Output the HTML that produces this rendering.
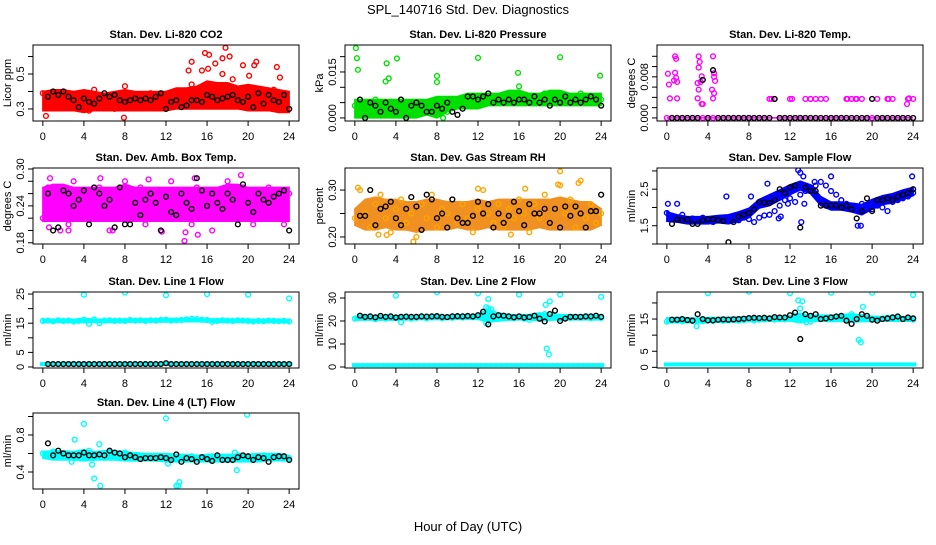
<!DOCTYPE html>
<html><head><meta charset="utf-8"><style>
html,body{margin:0;padding:0;background:#fff;}
svg text{font-family:"Liberation Sans",Arial,sans-serif;}
</style></head><body>
<svg id="chart" width="936" height="540" viewBox="0 0 936 540" xmlns="http://www.w3.org/2000/svg">
<text x="468" y="14" text-anchor="middle" font-size="13">SPL_140716  Std. Dev. Diagnostics</text>
<text x="468" y="531" text-anchor="middle" font-size="13">Hour of Day (UTC)</text>
</svg>
<script>
// ---------- data ----------
const xTicks=[0,4,8,12,16,20,24];
// P1 CO2
const co2Color=[0.39,0.35,0.33,0.37,0.40,0.31,0.36,0.38,0.34,0.29,0.41,0.33,0.36,0.38,0.30,0.35,0.43,0.32,0.37,0.36,0.34,0.39,0.31,0.35,0.37,0.33,0.40,0.36,0.38,0.44,0.35,0.52,0.38,0.33,0.42,0.50,0.36,0.47,0.40,0.55,0.37,0.42,0.34,0.39,0.36,0.41,0.33,0.37,0.30];
const co2Black=[0.37,0.40,0.38,0.40,0.37,0.35,0.31,0.36,0.34,0.33,0.36,0.39,0.37,0.38,0.35,0.34,0.35,0.36,0.35,0.36,0.35,0.37,0.39,0.30,0.34,0.35,0.31,0.32,0.35,0.35,0.34,0.38,0.37,0.35,0.36,0.37,0.38,0.35,0.34,0.37,0.31,0.39,0.33,0.38,0.35,0.34,0.38,0.30];
const co2BandLo=[0.29,0.29,0.29,0.29,0.28,0.29,0.29,0.29,0.29,0.29,0.29,0.29,0.29,0.30,0.30,0.30,0.30,0.30,0.30,0.30,0.29,0.29,0.29,0.28,0.28];
const co2BandHi=[0.40,0.41,0.41,0.40,0.41,0.40,0.39,0.40,0.41,0.40,0.40,0.40,0.40,0.42,0.42,0.43,0.46,0.45,0.45,0.43,0.44,0.43,0.42,0.41,0.40];
const co2OutX=[15.8,16.2,17.8,18.2,16.8,17.5,14.5,20.8,22.8,7.9,0.3,14.2,16.1,20.1,23.1,20.6];
const co2OutY=[0.62,0.61,0.65,0.60,0.56,0.59,0.57,0.57,0.54,0.25,0.26,0.52,0.53,0.49,0.48,0.55];
// P2 Pressure
const presColor=[0.004,0.003,0.005,0.002,0.006,0.001,0.004,0.005,0.003,0.006,0.002,0.004,0.001,0.005,0.003,0.002,0.004,0.006,0.002,0.005,0.006,0.005,0.007,0.004,0.006,0.005,0.007,0.006,0.005,0.007,0.006,0.008,0.005,0.007,0.006,0.007,0.005,0.008,0.006,0.007,0.005,0.006,0.007,0.005,0.008,0.006,0.007,0.005,0.006];
const presBlack=[0.006,0.000,0.005,0.004,0.002,0.005,0.003,0.002,0.006,0.000,0.004,0.005,0.004,0.002,0.002,0.004,0.003,0.005,0.002,0.001,0.003,0.007,0.007,0.006,0.007,0.008,0.005,0.006,0.005,0.006,0.005,0.006,0.006,0.005,0.007,0.005,0.006,0.004,0.006,0.005,0.007,0.005,0.006,0.005,0.006,0.007,0.006,0.004];
const presBandLo=[0,0,0,0,0,0,0,0.001,0,0.002,0.003,0.003,0.003,0.004,0.004,0.004,0.004,0.004,0.004,0.004,0.004,0.004,0.004,0.004,0.004];
const presBandHi=[0.006,0.006,0.006,0.006,0.006,0.006,0.006,0.006,0.007,0.007,0.007,0.008,0.008,0.008,0.008,0.009,0.009,0.008,0.008,0.009,0.009,0.008,0.008,0.008,0.008];
const presOutX=[0.1,0.2,0.3,3.1,4.1,3.3,3.0,8.0,8.0,12.0,15.9,16.0,20.0,23.9,8.6];
const presOutY=[0.0228,0.0195,0.0157,0.0178,0.0194,0.0129,0.0119,0.0137,0.0117,0.0196,0.0147,0.0103,0.0198,0.0138,0.000];
// P3 Temp
const tempColor=[0,0,0,0,0,0,0,0,0,0,0,0,0,0,0,0,0,0,0,0,0.0037,0.0037,0,0,0.0037,0,0,0.0037,0.0037,0.0037,0.0037,0.0037,0,0,0,0.0037,0.0037,0.0037,0.0037,0,0,0.0037,0,0.0037,0.0037,0,0,0.0037,0.0037];
const tempBlack=[0,0,0,0,0,0,0.0074,0,0.0093,0,0,0,0,0,0,0,0,0,0,0,0.0037,0,0,0,0,0,0,0,0,0,0,0,0,0,0,0,0,0,0,0.0037,0,0,0,0,0,0,0,0];
const tempBandLo=[0,0,0,0,0,0,0,0,0,0,0,0,0,0,0,0,0,0,0,0,0,0,0,0,0];
const tempBandHi=[0,0,0,0,0,0,0,0,0,0,0,0,0,0,0,0,0,0,0,0,0,0,0,0,0];
const tempOutX=[0.1,0.2,0.3,0.8,0.8,0.9,0.7,0.9,1.0,1.0,3.1,3.2,3.1,3.0,3.1,3.0,3.3,3.4,3.4,3.5,4.5,4.6,4.6,4.7,4.4,4.6,4.5,23.4,23.6,10.2,12.2,14.0,17.6,18.4,21.6];
const tempOutY=[0.0086,0.0065,0.0038,0.012,0.0088,0.0115,0.0073,0.0078,0.007,0.0038,0.012,0.0109,0.0098,0.0068,0.0055,0.0038,0.0070,0.0081,0.0027,0.0027,0.0120,0.0087,0.0080,0.0072,0.0055,0.0048,0.0038,0.0027,0.0038,0.0037,0.0037,0.0037,0.0037,0.0037,0.0037];
// P4 Amb box temp
const ambColor=[0.22,0.27,0.25,0.23,0.26,0.21,0.28,0.24,0.22,0.26,0.25,0.27,0.23,0.20,0.26,0.24,0.28,0.22,0.25,0.27,0.21,0.24,0.26,0.23,0.25,0.28,0.22,0.26,0.24,0.21,0.27,0.25,0.23,0.20,0.26,0.24,0.28,0.22,0.25,0.27,0.23,0.21,0.26,0.24,0.27,0.22,0.25,0.21,0.26];
const ambBlack=[0.26,0.20,0.205,0.265,0.26,0.24,0.25,0.265,0.21,0.27,0.26,0.24,0.25,0.205,0.27,0.21,0.21,0.245,0.225,0.25,0.26,0.245,0.20,0.255,0.23,0.225,0.26,0.245,0.235,0.285,0.265,0.24,0.26,0.245,0.235,0.26,0.25,0.21,0.275,0.245,0.23,0.26,0.25,0.245,0.255,0.26,0.265,0.20];
const ambBandLo=[0.215,0.215,0.215,0.215,0.215,0.215,0.215,0.215,0.215,0.215,0.215,0.215,0.215,0.215,0.215,0.215,0.215,0.215,0.215,0.215,0.215,0.215,0.215,0.215,0.215];
const ambBandHi=[0.27,0.275,0.275,0.27,0.27,0.27,0.27,0.27,0.275,0.27,0.27,0.27,0.27,0.27,0.27,0.27,0.27,0.27,0.275,0.275,0.27,0.27,0.27,0.27,0.27];
const ambOutX=[0.7,0.6,2.5,5.6,6.8,13.8,14.8,15.1,19.3,13.9,1.7,10.3,11.6];
const ambOutY=[0.285,0.205,0.20,0.285,0.20,0.183,0.285,0.193,0.29,0.197,0.20,0.283,0.198];
// P5 Gas stream RH
const rhColor=[0.24,0.30,0.25,0.22,0.27,0.29,0.24,0.21,0.26,0.28,0.23,0.25,0.20,0.27,0.24,0.29,0.22,0.26,0.25,0.28,0.23,0.27,0.24,0.21,0.26,0.30,0.25,0.23,0.27,0.22,0.26,0.24,0.28,0.25,0.21,0.27,0.24,0.29,0.23,0.26,0.31,0.25,0.28,0.22,0.32,0.24,0.27,0.23,0.25];
const rhBlack=[0.245,0.245,0.30,0.225,0.26,0.265,0.275,0.24,0.225,0.26,0.285,0.265,0.215,0.29,0.28,0.24,0.25,0.22,0.28,0.24,0.23,0.23,0.245,0.275,0.25,0.27,0.22,0.25,0.23,0.245,0.275,0.255,0.225,0.27,0.25,0.25,0.26,0.23,0.26,0.22,0.265,0.245,0.265,0.25,0.22,0.255,0.255,0.29];
const rhBandLo=[0.225,0.215,0.215,0.22,0.215,0.215,0.21,0.215,0.215,0.215,0.22,0.215,0.215,0.22,0.215,0.215,0.215,0.215,0.22,0.215,0.215,0.215,0.215,0.215,0.225];
const rhBandHi=[0.26,0.28,0.285,0.28,0.28,0.275,0.275,0.28,0.28,0.275,0.275,0.275,0.28,0.275,0.28,0.28,0.28,0.28,0.28,0.28,0.285,0.28,0.275,0.275,0.26];
const rhOutX=[5.7,20.0,19.8,15.2,2.3,0.3,21.8,12.0,16.6,3.1];
const rhOutY=[0.19,0.34,0.312,0.205,0.205,0.305,0.315,0.303,0.303,0.204];
// P6 Sample flow
const flowColor=[1.85,1.75,1.70,1.80,1.65,1.70,1.62,1.72,1.68,1.60,1.70,1.66,1.70,1.75,1.65,1.72,1.68,1.60,1.72,1.78,1.80,1.90,2.05,2.20,2.25,2.15,2.35,2.45,2.55,2.60,2.70,2.60,2.45,2.35,2.20,2.10,2.05,2.00,2.10,2.05,1.95,2.05,2.00,1.90,2.15,2.20,2.25,2.30,2.40];
const flowBlack=[1.55,1.67,1.65,1.67,1.55,1.55,1.65,1.67,1.68,1.65,1.63,1.05,1.60,1.75,1.80,1.85,1.95,2.15,2.13,2.12,2.20,2.50,2.40,2.55,2.60,1.45,2.55,2.45,2.45,2.05,2.05,2.05,2.05,2.00,2.05,1.95,1.70,1.90,2.25,1.90,2.20,2.20,2.25,2.20,2.30,2.35,2.40,2.50];
const flowBandLo=[1.62,1.60,1.55,1.55,1.55,1.58,1.55,1.62,1.72,1.98,2.05,2.20,2.35,2.48,2.38,2.05,1.93,1.93,1.88,1.80,1.95,2.08,2.12,2.22,2.32];
const flowBandHi=[1.88,1.80,1.75,1.75,1.75,1.78,1.80,1.88,1.98,2.22,2.35,2.48,2.62,2.72,2.62,2.30,2.15,2.15,2.12,2.08,2.22,2.32,2.38,2.48,2.55];
const flowOutX=[0.1,1.0,5.8,8.2,9.8,10.9,11.1,12.8,13.0,13.3,13.1,13.4,14.4,16.0,18.6,18.9,23.9,11.8];
const flowOutY=[2.10,2.10,2.30,2.30,2.65,1.70,1.75,3.02,2.95,2.85,1.60,2.10,2.70,2.85,1.50,1.50,2.85,2.10];
// P7 Line 1
const l1Color=[15.8,15.9,15.7,16.0,15.8,15.9,15.6,15.8,16.2,14.8,16.3,15.0,15.9,16.0,15.8,15.9,15.8,16.1,15.9,16.0,15.8,16.0,15.9,16.1,16.2,15.9,16.0,16.1,16.3,16.5,16.4,16.2,16.1,15.5,15.8,16.0,15.9,15.8,16.0,15.9,15.8,15.6,15.8,15.7,15.9,15.8,15.7,15.8,15.6];
const l1Low=[1.0,1.0,0.9,1.0,1.0,1.1,1.0,0.9,1.0,1.0,1.0,1.0,1.1,1.0,1.0,0.9,1.0,1.0,1.0,1.0,1.0,1.0,1.0,1.0,1.1,1.0,1.0,1.0,1.0,1.0,1.0,1.0,1.0,1.0,1.0,1.0,1.0,1.0,1.0,1.0,1.0,1.0,1.0,1.0,1.0,1.0,1.0,1.0,1.0];
const l1Black=[1.0,1.0,1.0,1.0,1.0,1.0,1.0,1.0,1.0,1.0,1.0,1.0,1.0,1.0,1.0,1.0,1.0,1.0,1.0,1.0,1.0,1.0,1.0,1.3,1.0,1.0,1.0,1.0,1.0,1.0,1.0,1.0,1.0,1.0,1.0,1.0,1.0,1.0,1.0,1.0,1.0,1.0,1.0,1.0,1.0,1.0,1.0,1.0];
const l1BandLo=[15.3,15.3,15.3,15.3,15.2,15.3,15.3,15.3,15.4,15.4,15.4,15.4,15.4,15.5,15.5,15.5,15.4,15.3,15.3,15.3,15.3,15.3,15.3,15.3,15.3];
const l1BandHi=[16.2,16.3,16.3,16.3,16.6,16.4,16.3,16.4,16.4,16.5,16.5,16.5,16.6,16.6,16.7,16.6,16.5,16.5,16.4,16.4,16.4,16.3,16.3,16.3,16.2];
const l1OutX=[4,8,12,16,20,24];
const l1OutY=[24.8,25.5,24.6,25.0,24.8,23.5];
// P8 Line 2
const l2Color=[21.0,21.5,21.2,21.8,20.8,21.4,21.0,21.6,21.2,19.5,21.4,21.0,21.3,21.7,21.1,21.5,21.9,21.2,21.6,21.4,21.8,21.5,22.0,21.6,21.8,23.0,25.5,22.5,21.0,22.0,21.5,21.2,21.8,21.0,20.5,21.4,22.5,23.0,21.5,21.8,21.0,21.5,21.3,21.6,21.4,21.8,21.2,21.5,21.3];
const l2Low=[0.8,0.8,0.8,0.8,0.8,0.8,0.8,0.8,0.8,0.8,0.8,0.8,0.8,0.8,0.8,0.8,0.8,0.8,0.8,0.8,0.8,0.8,0.8,0.8,0.8,0.8,0.8,0.8,0.8,0.8,0.8,0.8,0.8,0.8,0.8,0.8,0.8,0.8,0.8,0.8,0.8,0.8,0.8,0.8,0.8,0.8,0.8,0.8,0.8];
const l2Black=[22.3,21.8,22.0,21.6,22.2,21.8,22.0,21.5,21.8,21.9,21.8,21.8,22.0,21.9,22.0,22.1,21.8,21.7,22.0,22.1,22.0,22.2,22.0,22.5,24.0,18.5,22.0,22.5,22.3,22.0,21.6,22.0,21.5,21.7,22.3,21.0,19.8,23.0,24.5,20.0,21.0,21.8,21.8,21.8,22.0,22.0,22.3,21.8];
const l2BandLo=[20.3,20.4,20.4,20.4,20.3,20.5,20.6,20.6,20.6,20.6,20.7,20.7,20.7,19.5,20.0,20.3,20.5,20.5,20.0,20.3,20.5,20.5,20.5,20.5,20.5];
const l2BandHi=[22.0,22.2,22.3,22.2,22.4,22.3,22.3,22.4,22.4,22.5,22.5,22.5,22.6,25.0,23.5,22.8,22.7,22.8,23.5,23.0,22.8,22.7,22.6,22.5,22.4];
const l2OutX=[4,8,12,16,20,24,13,12.8,13.3,18.7,18.9,18.6,19.0,12.8];
const l2OutY=[31,32.5,32,31.5,31.5,30.5,29.5,26,25,8,5.5,27,28.5,19];
// P9 Line 3
const l3Color=[14.2,14.8,14.5,14.3,14.6,14.4,14.6,14.3,14.5,14.4,14.7,14.5,14.6,14.8,14.5,14.7,15.0,14.6,14.8,14.9,15.0,14.8,15.1,14.9,15.2,16.0,15.5,15.0,14.2,15.2,15.5,15.4,15.3,15.6,15.8,15.0,16.5,15.4,15.6,15.2,14.8,15.0,15.2,15.4,15.6,15.3,15.0,15.2,14.8];
const l3Low=[0.9,0.9,0.9,0.9,0.9,0.9,0.9,0.9,0.9,0.9,0.9,0.9,0.9,0.9,0.9,0.9,0.9,0.9,0.9,0.9,0.9,0.9,0.9,0.9,0.9,0.9,0.9,0.9,0.9,0.9,0.9,0.9,0.9,0.9,0.9,0.9,0.9,0.9,0.9,0.9,0.9,0.9,0.9,0.9,0.9,0.9,0.9,0.9,0.9];
const l3Black=[14.8,14.8,15.0,14.7,14.5,16.5,15.0,14.6,14.6,14.8,14.9,14.8,14.9,15.0,15.1,15.3,15.4,15.3,15.4,15.2,15.6,15.5,15.5,16.2,17.0,8.8,16.5,16.0,16.5,15.0,15.2,15.5,15.8,16.0,14.5,13.5,15.0,16.5,16.0,14.8,14.5,15.0,15.2,15.5,15.8,15.0,15.5,15.2];
const l3BandLo=[13.8,13.9,13.9,13.8,13.9,14.0,14.0,14.1,14.2,14.2,14.3,14.3,14.4,13.8,14.3,14.3,14.2,14.3,14.0,14.2,14.3,14.3,14.3,14.3,14.3];
const l3BandHi=[15.4,15.5,15.4,15.3,15.5,15.5,15.6,15.6,15.7,15.7,15.8,15.8,15.9,16.8,16.2,16.2,16.2,16.4,16.6,16.2,15.9,15.8,15.8,15.8,15.6];
const l3OutX=[4,8,12,16,20,24,12.8,13.2,13,2.9,18.7,18.9,19.1,13.6];
const l3OutY=[23,23.5,23,23.2,23.2,22.5,20.8,20.5,18.3,12.8,8.5,7.8,18.8,14];
// P10 Line 4
const l4Color=[0.60,0.58,0.62,0.57,0.60,0.56,0.59,0.61,0.57,0.63,0.55,0.60,0.58,0.62,0.57,0.59,0.61,0.58,0.56,0.57,0.55,0.56,0.55,0.57,0.55,0.53,0.56,0.54,0.55,0.57,0.55,0.54,0.56,0.57,0.55,0.54,0.56,0.55,0.58,0.55,0.56,0.57,0.55,0.58,0.56,0.57,0.55,0.56,0.55];
const l4Black=[0.71,0.58,0.63,0.60,0.58,0.58,0.58,0.61,0.58,0.58,0.59,0.58,0.63,0.61,0.60,0.56,0.58,0.56,0.54,0.55,0.55,0.55,0.56,0.55,0.53,0.59,0.51,0.55,0.54,0.51,0.56,0.54,0.52,0.58,0.53,0.53,0.53,0.56,0.58,0.57,0.53,0.56,0.55,0.51,0.56,0.57,0.57,0.53];
const l4BandLo=[0.55,0.53,0.53,0.53,0.52,0.53,0.53,0.53,0.52,0.52,0.52,0.52,0.51,0.51,0.51,0.51,0.51,0.51,0.51,0.51,0.51,0.51,0.52,0.52,0.52];
const l4BandHi=[0.62,0.63,0.63,0.62,0.64,0.62,0.63,0.63,0.62,0.61,0.60,0.60,0.60,0.59,0.59,0.58,0.59,0.59,0.59,0.59,0.59,0.60,0.60,0.60,0.58];
const l4OutX=[4,3.1,5.5,4.8,2.8,5,5.6,12,12.2,13,13.2,13.3,18.9,19.9,18.7];
const l4OutY=[0.92,0.75,0.70,0.48,0.51,0.33,0.25,0.98,0.49,0.25,0.25,0.29,0.42,1.02,0.61];

// ---------- layout ----------
const NS="http://www.w3.org/2000/svg";
const svg=document.getElementById('chart');
const colLeft=[33,345,657], boxW=266;
const rowTop=[45,168,292,413], boxH=76;
function mk(tag,attrs,parent){const e=document.createElementNS(NS,tag);for(const k in attrs)e.setAttribute(k,attrs[k]);(parent||svg).appendChild(e);return e;}

function panel(o){
  const L=colLeft[o.col],T=rowTop[o.row],R=L+boxW,B=T+boxH;
  const g=mk('g',{});
  
  
  const xs=x=>L+(x+0.96)*boxW/25.92;
  const ys=y=>B-(y-o.ymin)/(o.ymax-o.ymin)*boxH;
  const clip=mk('clipPath',{id:'c'+o.name},g);mk('rect',{x:L,y:T,width:boxW,height:boxH},clip);
  const plot=mk('g',{'clip-path':'url(#c'+o.name+')'},g);
  
  
  if(o.lo){let pts=[];for(let i=0;i<o.lo.length;i++)pts.push(xs(i)+','+ys(o.hi[i]));for(let i=o.lo.length-1;i>=0;i--)pts.push(xs(i)+','+ys(o.lo[i]));
    const p=mk('polygon',{points:pts.join(' '),fill:o.fill||o.color,stroke:o.fill||o.color,'stroke-width':1.5},plot);
    
    }
  const dot=(x,y,c,nm)=>{const e=mk('circle',{cx:xs(x),cy:ys(y),r:2.4,fill:'none',stroke:c,'stroke-width':1.4},plot);
    
    };
  if(o.low)o.low.forEach((v,i)=>{const e=mk('rect',{x:xs(i*0.5)-3,y:ys(v)-2,width:xs(0.5)-xs(0)+1,height:4,fill:o.color},plot);
    
    });
  o.data.forEach((v,i)=>dot(i*0.5,v,o.color,'series-point'));
  o.ox.forEach((x,i)=>dot(x,o.oy[i],o.color,'outlier-point'));
  o.black.forEach((v,i)=>dot((i+1)*0.5,v,'#000','black-point'));
  const bx=mk('rect',{x:L,y:T,width:boxW,height:boxH,fill:'none',stroke:'#000','stroke-width':1},g);
  
  
  xTicks.forEach(t=>{mk('line',{x1:xs(t),x2:xs(t),y1:B,y2:B+5,stroke:'#000'},g);
    const tx=mk('text',{x:xs(t),y:B+19,'text-anchor':'middle','font-size':11},g);tx.textContent=t;
    
    });
  mk('line',{x1:xs(0),x2:xs(24),y1:B,y2:B,stroke:'#000'},g);
  o.yt.forEach(t=>{mk('line',{x1:L,x2:L-5,y1:ys(t),y2:ys(t),stroke:'#000'},g);});
  mk('line',{x1:L,x2:L,y1:ys(o.yt[0]),y2:ys(o.yt[o.yt.length-1]),stroke:'#000'},g);
  o.yl.forEach((t,i)=>{const tx=mk('text',{x:0,y:0,'text-anchor':'middle','font-size':11,transform:'translate('+(L-9)+','+ys(t)+') rotate(-90)'},g);tx.textContent=o.ylt[i];
    
    });
  const yt=mk('text',{x:0,y:0,'text-anchor':'middle','font-size':11,transform:'translate('+(L-22)+','+((T+B)/2)+') rotate(-90)'},g);yt.textContent=o.ytitle;
  
  
  const ti=mk('text',{x:(L+R)/2,y:T-7,'text-anchor':'middle','font-size':11,'font-weight':'bold'},g);ti.textContent=o.title;
  
  
}
panel({name:'co2',col:0,row:0,title:'Stan. Dev. Li-820 CO2',ytitle:'Licor ppm',ymin:0.231,ymax:0.666,yt:[0.3,0.4,0.5,0.6],yl:[0.3,0.5],ylt:['0.3','0.5'],color:'#ff0000',data:co2Color,black:co2Black,lo:co2BandLo,hi:co2BandHi,ox:co2OutX,oy:co2OutY});
panel({name:'pressure',col:1,row:0,title:'Stan. Dev. Li-820 Pressure',ytitle:'kPa',ymin:-0.001,ymax:0.0238,yt:[0,0.005,0.01,0.015,0.02],yl:[0,0.015],ylt:['0.000','0.015'],color:'#00e000',data:presColor,black:presBlack,lo:presBandLo,hi:presBandHi,ox:presOutX,oy:presOutY});
panel({name:'temp',col:2,row:0,title:'Stan. Dev. Li-820 Temp.',ytitle:'degrees C',ymin:-0.0006,ymax:0.0142,yt:[0,0.002,0.004,0.006,0.008,0.010,0.012],yl:[0,0.008],ylt:['0.000','0.008'],color:'#ff00ff',data:tempColor,black:tempBlack,lo:tempBandLo,hi:tempBandHi,ox:tempOutX,oy:tempOutY});
panel({name:'ambtemp',col:0,row:1,title:'Stan. Dev. Amb. Box Temp.',ytitle:'degrees C',ymin:0.178,ymax:0.3016,yt:[0.18,0.2,0.22,0.24,0.26,0.28,0.30],yl:[0.18,0.24,0.30],ylt:['0.18','0.24','0.30'],color:'#ff00ff',data:ambColor,black:ambBlack,lo:ambBandLo,hi:ambBandHi,ox:ambOutX,oy:ambOutY});
panel({name:'rh',col:1,row:1,title:'Stan. Dev. Gas Stream RH',ytitle:'percent',ymin:0.185,ymax:0.347,yt:[0.20,0.25,0.30],yl:[0.20,0.30],ylt:['0.20','0.30'],color:'#ffa500',fill:'#f09020',data:rhColor,black:rhBlack,lo:rhBandLo,hi:rhBandHi,ox:rhOutX,oy:rhOutY});
panel({name:'sampleflow',col:2,row:1,title:'Stan. Dev. Sample Flow',ytitle:'ml/min',ymin:1.0,ymax:3.08,yt:[1.0,1.5,2.0,2.5,3.0],yl:[1.5,2.5],ylt:['1.5','2.5'],color:'#0000ff',data:flowColor,black:flowBlack,lo:flowBandLo,hi:flowBandHi,ox:flowOutX,oy:flowOutY});
panel({name:'line1',col:0,row:2,title:'Stan. Dev. Line 1 Flow',ytitle:'ml/min',ymin:-0.35,ymax:25.7,yt:[0,5,10,15,20,25],yl:[0,5,15,25],ylt:['0','5','15','25'],color:'#00ffff',data:l1Color,low:l1Low,black:l1Black,lo:l1BandLo,hi:l1BandHi,ox:l1OutX,oy:l1OutY});
panel({name:'line2',col:1,row:2,title:'Stan. Dev. Line 2 Flow',ytitle:'ml/min',ymin:-0.44,ymax:32.6,yt:[0,10,20,30],yl:[0,10,20,30],ylt:['0','10','20','30'],color:'#00ffff',data:l2Color,low:l2Low,black:l2Black,lo:l2BandLo,hi:l2BandHi,ox:l2OutX,oy:l2OutY});
panel({name:'line3',col:2,row:2,title:'Stan. Dev. Line 3 Flow',ytitle:'ml/min',ymin:-0.2,ymax:23.4,yt:[0,5,10,15,20],yl:[0,5,15],ylt:['0','5','15'],color:'#00ffff',data:l3Color,low:l3Low,black:l3Black,lo:l3BandLo,hi:l3BandHi,ox:l3OutX,oy:l3OutY});
panel({name:'line4',col:0,row:3,title:'Stan. Dev. Line 4 (LT) Flow',ytitle:'ml/min',ymin:0.216,ymax:1.038,yt:[0.4,0.6,0.8,1.0],yl:[0.4,0.8],ylt:['0.4','0.8'],color:'#00ffff',data:l4Color,black:l4Black,lo:l4BandLo,hi:l4BandHi,ox:l4OutX,oy:l4OutY});
</script>
</body></html>
